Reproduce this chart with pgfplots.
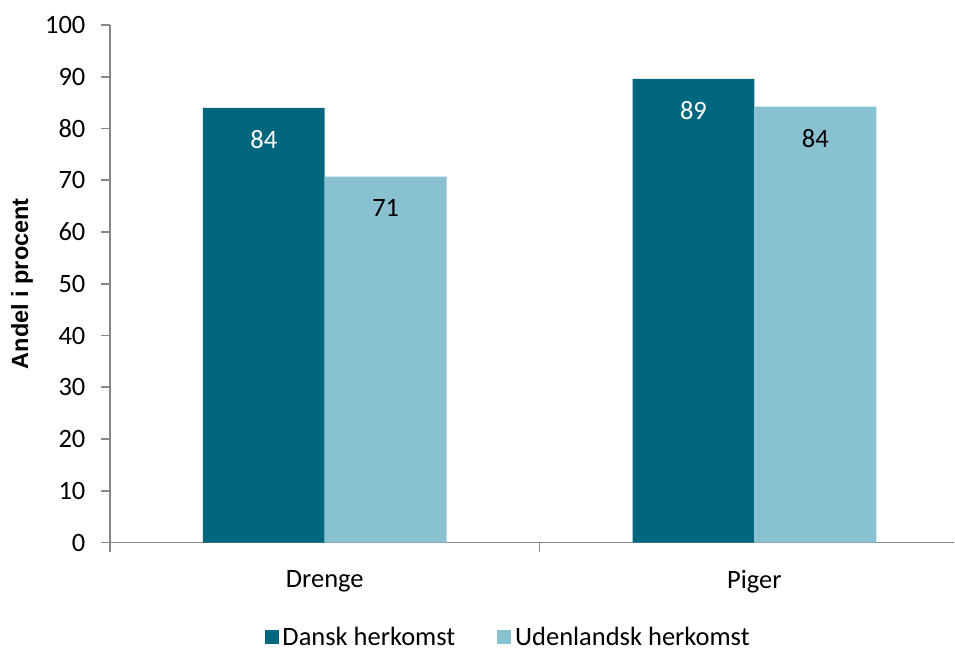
\documentclass[border=0pt]{standalone}
\usepackage{fontspec}
\setmainfont{Carlito}
\newfontfamily\labelfont{Liberation Sans}
\usepackage{pgfplots}
\pgfplotsset{compat=1.18}
\definecolor{dark}{HTML}{00677F}
\definecolor{light}{HTML}{88C1D0}
\definecolor{axgray}{HTML}{868686}
\pgfplotsset{sqlegend/.style={legend image code/.code={\fill[##1] (0bp,-7bp) rectangle (14bp,7bp); \path (0bp,0bp) -- (16bp,0bp);}}}
\begin{document}
\begin{tikzpicture}[font=\fontsize{26.5bp}{31bp}\selectfont]
\begin{axis}[
  scale only axis, width=845bp, height=518bp,
  xmin=-0.5, xmax=1.465, ymin=0, ymax=100,
  axis x line*=bottom, axis y line*=left,
  axis line style={axgray, line width=1.6bp},
  ytick={0,10,...,100},
  xtick={0,1}, xticklabels={Drenge,Piger},
  minor xtick={-0.5,0.5},
  tick align=outside, major tick length=9bp, minor tick length=9bp,
  major x tick style={draw=none},
  minor x tick style={axgray, line width=1.6bp},
  y tick style={axgray, line width=1.6bp},
  /pgf/number format/assume math mode=true,
  xticklabel style={yshift=-15bp},
  yticklabel style={xshift=-12bp},
  ylabel={\labelfont\bfseries\fontsize{23.5bp}{28bp}\selectfont Andel i procent},
  ylabel style={at={(axis description cs:-0.1041,0.5)}, anchor=center},
  legend style={at={(0.4716,-0.182)}, anchor=center, draw=none, legend columns=2,
    /tikz/every even column/.append style={column sep=40bp}},
  ybar=0bp, bar width=122bp,
  nodes near coords,
  nodes near coords style={anchor=north, yshift=-19bp, font=\fontsize{26.5bp}{31bp}\selectfont},
  point meta=explicit symbolic,
]
\addplot[fill=dark, draw=none, sqlegend,
  every node near coord/.append style={white}]
  coordinates {(0,84.0) [84] (1,89.6) [89]};
\addplot[fill=light, draw=none, sqlegend,
  every node near coord/.append style={black}]
  coordinates {(0,70.7) [71] (1,84.2) [84]};
\legend{Dansk herkomst, Udenlandsk herkomst}
\end{axis}
\path ([shift={(-110bp,-103bp)}]current axis.south west) rectangle ([shift={(0bp,25bp)}]current axis.north east);
\end{tikzpicture}
\end{document}
